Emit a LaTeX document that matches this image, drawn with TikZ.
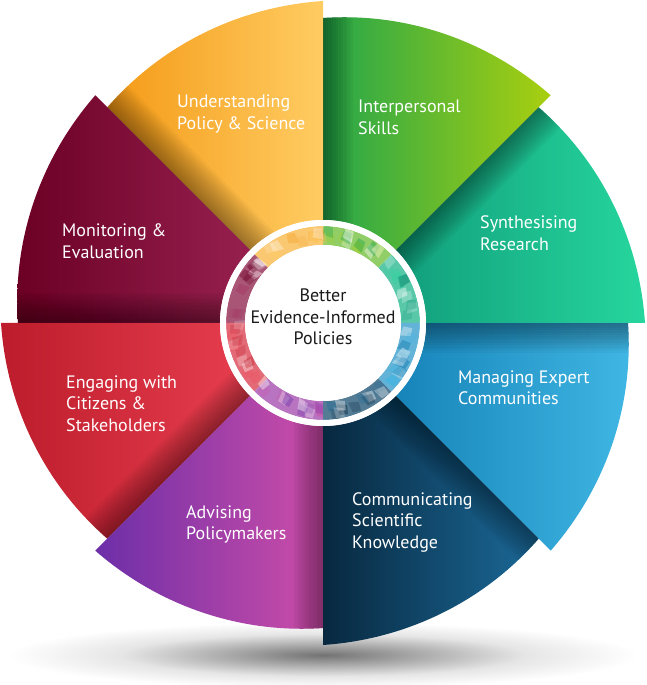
\documentclass[tikz,border=0pt]{standalone}
\usepackage{fontspec}
\setmainfont{PT Sans}
\definecolor{tealL}{HTML}{0B8E72}\definecolor{tealR}{HTML}{26D69D}
\definecolor{greenL}{HTML}{24A64B}\definecolor{greenR}{HTML}{A9CF0F}
\definecolor{orangeL}{HTML}{F49A16}\definecolor{orangeR}{HTML}{FFCC62}
\definecolor{maroonL}{HTML}{6B0024}\definecolor{maroonR}{HTML}{A42A5C}
\definecolor{redL}{HTML}{BC1C2B}\definecolor{redR}{HTML}{F4485A}
\definecolor{purpleL}{HTML}{6C2EA8}\definecolor{purpleR}{HTML}{CE4EA8}
\definecolor{navyL}{HTML}{08283F}\definecolor{navyR}{HTML}{1B6A99}
\definecolor{blueL}{HTML}{0A74AC}\definecolor{blueR}{HTML}{3FB6E3}
\definecolor{centertext}{HTML}{1A1A1A}
\pgfdeclareradialshading{floorshadow}{\pgfpoint{0bp}{0bp}}{color(0bp)=(black!55); color(7bp)=(black!35); color(16bp)=(black!10); color(25bp)=(white); color(50bp)=(white)}
\newcommand\wedgepath[1]{(0,0) -- plot[domain=0:45,samples=46,variable=\t] ({#1+\t}:{322-17*\t/45}) -- cycle}
\newcommand\lblfont{\fontsize{18}{21.5}\selectfont}
\tikzset{
  lbl/.style={text=white, font=\lblfont, align=left, anchor=base west, inner sep=0pt},
  ctr/.style={text=centertext, font=\lblfont, align=center, anchor=base, inner sep=0pt},
}
\begin{document}
\begin{tikzpicture}[x=1pt,y=1pt]
\useasboundingbox (-323,-362) rectangle (323,323);
\fill[white] (-323,-362) rectangle (323,323);
% floor shadow
\shade[shading=floorshadow] (0,-332) ellipse [x radius=315, y radius=33];
% sectors
\foreach \a/\cl/\cr in {0/tealL/tealR,45/greenL/greenR,90/orangeL/orangeR,135/maroonL/maroonR,180/redL/redR,225/purpleL/purpleR,270/navyL/navyR,315/blueL/blueR}
  \shade[left color=\cl, right color=\cr] \wedgepath{\a};
% cast shadows of each long edge on the neighbouring sector
\foreach \a in {0,45,...,315}{
  \begin{scope}
    \clip \wedgepath{\a-45};
    \begin{scope}[rotate=\a]
      \foreach \i in {1,...,12}
        \fill[black,opacity=.035] (0,0) rectangle (330,-2.5*\i);
    \end{scope}
  \end{scope}
}
% centre
\fill[white] (0,0) circle [radius=103];
\pgfmathsetseed{7}
\foreach \a/\cl/\cr in {0/tealL/tealR,45/greenL/greenR,90/orangeL/orangeR,135/maroonL/maroonR,180/redL/redR,225/purpleL/purpleR,270/navyL/navyR,315/blueL/blueR}{
  \fill[\cl!50!\cr!72!white] (\a:78) arc [start angle=\a, end angle=\a+45, radius=78]
     -- ({\a+45}:97) arc [start angle=\a+45, end angle=\a, radius=97] -- cycle;
  \foreach \j in {1,...,12}{
    \pgfmathsetmacro\pa{\a+1+43*rnd}
    \pgfmathsetmacro\pr{83+9*rnd}
    \pgfmathsetmacro\op{0.15+0.3*rnd}
    \pgfmathtruncatemacro\k{mod(\j,3)}
    \ifcase\k \def\cc{\cl}\or \def\cc{\cr}\or \def\cc{white}\fi
    \fill[\cc, opacity=\op] ({\pa-4}:{\pr-6}) -- ({\pa+3}:{\pr-3}) -- ({\pa+2}:{\pr+6}) -- ({\pa-3}:{\pr+5}) -- cycle;
  }
}
\draw[white, line width=6] (0,0) circle [radius=100];
\fill[white] (0,0) circle [radius=78];
\node[ctr] (center) at (0,-22) {Better\\Evidence-Informed\\Policies};
% labels (anchored at the baseline of their last line)
\node[lbl] (ups) at (-146,193.5) {Understanding\\Policy \& Science};
\node[lbl] (ips) at (35,188.5) {Interpersonal\\Skills};
\node[lbl] (syn) at (157,72.5) {Synthesising\\Research};
\node[lbl] (mon) at (-261,64.5) {Monitoring \&\\Evaluation};
\node[lbl] (eng) at (-257,-108) {Engaging with\\Citizens \&\\Stakeholders};
\node[lbl] (mec) at (135,-81.5) {Managing Expert\\Communities};
\node[lbl] (adv) at (-137,-216.5) {Advising\\Policymakers};
\node[lbl] (com) at (29,-225) {Communicating\\Scientific\\Knowledge};
\end{tikzpicture}
\end{document}
